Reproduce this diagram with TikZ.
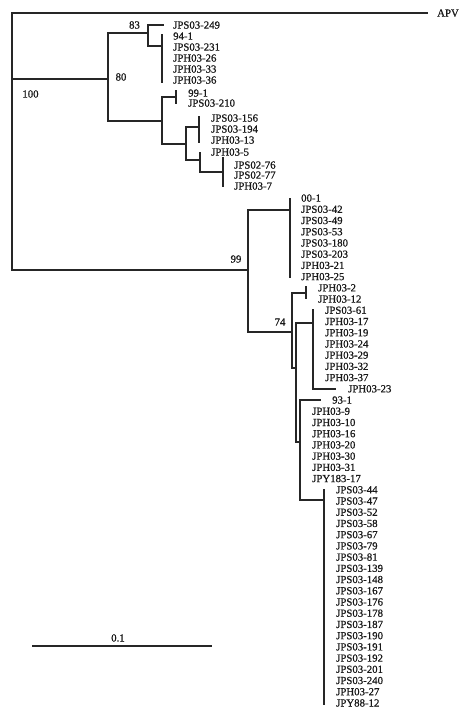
\documentclass[tikz,border=0pt]{standalone}
\usepackage{fontspec}
\setmainfont{Liberation Serif}
\newfontfamily\treefont[FakeBold=0.7]{Liberation Serif}
\begin{document}
\begin{tikzpicture}[x=1pt,y=-1pt,
  br/.style={draw=black!85, line width=1.1pt, line cap=rect},
  lab/.style={anchor=west, inner sep=0pt, font=\treefont\fontsize{10.8}{11}\selectfont, text height=7.2pt, text depth=0pt, text=black!90},
  bootlab/.style={inner sep=0pt, font=\treefont\fontsize{10.8}{11}\selectfont, text=black!90}]
\useasboundingbox (0,0) rectangle (474,717);
\fill[white] (0,0) rectangle (474,717);

% root
\coordinate (rootT) at (12,13);
\coordinate (rootB) at (12,270);
\draw[br] (rootT) -- (rootB);
\coordinate (apvE) at (427,13);
\draw[br] (rootT) -- (apvE);
\node[lab] (apv) at (437,13) {APV};

% clade 80
\coordinate (n80) at (108,79);
\coordinate (n80T) at (108,33);
\coordinate (n80B) at (108,121);
\draw[br] (rootT |- n80) -- (n80);
\draw[br] (n80T) -- (n80B);

\coordinate (n83) at (148,33);
\coordinate (n83T) at (148,25);
\coordinate (n83B) at (148,46);
\draw[br] (n80T) -- (n83);
\draw[br] (n83T) -- (n83B);
\coordinate (e249) at (163,25);
\draw[br] (n83T) -- (e249);
\node[lab] (l249) at (173,25) {JPS03-249};

\coordinate (p1) at (162,46);
\coordinate (p1T) at (162,35);
\coordinate (p1B) at (162,82);
\draw[br] (n83B) -- (p1);
\draw[br] (p1T) -- (p1B);
\foreach \t/\yy [count=\i] in {94-1/36,JPS03-231/47,JPH03-26/58,JPH03-33/69,JPH03-36/80}
  \node[lab] (a\i) at (173,\yy) {\t};

\coordinate (nA) at (162,121);
\coordinate (nAT) at (162,97);
\coordinate (nAB) at (162,144);
\draw[br] (n80B) -- (nA);
\draw[br] (nAT) -- (nAB);

\coordinate (p2) at (176,97);
\coordinate (p2T) at (176,91);
\coordinate (p2B) at (176,103);
\draw[br] (nAT) -- (p2);
\draw[br] (p2T) -- (p2B);
\node[lab] (b1) at (188,93) {99-1};
\node[lab] (b2) at (188,103) {JPS03-210};

\coordinate (nB) at (186,144);
\coordinate (nBT) at (186,127);
\coordinate (nBB) at (186,160);
\draw[br] (nAB) -- (nB);
\draw[br] (nBT) -- (nBB);

\coordinate (p3) at (199,127);
\coordinate (p3T) at (199,117);
\coordinate (p3B) at (199,142);
\draw[br] (nBT) -- (p3);
\draw[br] (p3T) -- (p3B);
\foreach \t/\yy [count=\i] in {JPS03-156/118,JPS03-194/129,JPH03-13/140}
  \node[lab] (c\i) at (211,\yy) {\t};

\coordinate (nC) at (200,160);
\coordinate (nCT) at (200,153);
\coordinate (nCB) at (200,172);
\draw[br] (nBB) -- (nC);
\draw[br] (nCT) -- (nCB);
\node[lab] (d0) at (211,152) {JPH03-5};

\coordinate (p4) at (223,172);
\coordinate (p4T) at (223,158);
\coordinate (p4B) at (223,186);
\draw[br] (nCB) -- (p4);
\draw[br] (p4T) -- (p4B);
\foreach \t/\yy [count=\i] in {JPS02-76/165,JPS02-77/175,JPH03-7/186}
  \node[lab] (d\i) at (234,\yy) {\t};

% clade 99
\coordinate (n99) at (248,270);
\coordinate (n99T) at (248,210);
\coordinate (n99B) at (248,332);
\draw[br] (rootB) -- (n99);
\draw[br] (n99T) -- (n99B);

\coordinate (p5) at (290,210);
\coordinate (p5T) at (290,199);
\coordinate (p5B) at (290,277);
\draw[br] (n99T) -- (p5);
\draw[br] (p5T) -- (p5B);
\foreach \t [count=\i from 0] in {00-1,JPS03-42,JPS03-49,JPS03-53,JPS03-180,JPS03-203,JPH03-21,JPH03-25}
  \node[lab] (e\i) at ({301},{198+11.22*\i}) {\t};

\coordinate (n74) at (292,332);
\coordinate (n74T) at (292,293);
\coordinate (n74B) at (292,368);
\draw[br] (n99B) -- (n74);
\draw[br] (n74T) -- (n74B);

\coordinate (p6) at (306,293);
\coordinate (p6T) at (306,287);
\coordinate (p6B) at (306,298);
\draw[br] (n74T) -- (p6);
\draw[br] (p6T) -- (p6B);
\node[lab] (f1) at ({318},{198+11.22*8}) {JPH03-2};
\node[lab] (f2) at ({318},{198+11.22*9}) {JPH03-12};

\coordinate (nX) at (296,368);
\coordinate (nXT) at (296,323);
\coordinate (nXB) at (296,442);
\draw[br] (n74B) -- (nX);
\draw[br] (nXT) -- (nXB);

\coordinate (p7) at (313,323);
\coordinate (p7T) at (313,310);
\coordinate (p7B) at (313,389);
\draw[br] (nXT) -- (p7);
\draw[br] (p7T) -- (p7B);
\foreach \t [count=\i from 10] in {JPS03-61,JPH03-17,JPH03-19,JPH03-24,JPH03-29,JPH03-32,JPH03-37}
  \node[lab] (g\i) at ({325},{198+11.22*\i}) {\t};
\coordinate (e23) at (335,389);
\draw[br] (p7B) -- (e23);
\node[lab] (g17) at ({348},{198+11.22*17}) {JPH03-23};

\coordinate (nY) at (300,442);
\coordinate (nYT) at (300,400);
\coordinate (nYB) at (300,500);
\draw[br] (nXB) -- (nY);
\draw[br] (nYT) -- (nYB);
\coordinate (e931) at (320,400);
\draw[br] (nYT) -- (e931);
\node[lab] (h18) at ({332},{198+11.22*18}) {93-1};
\foreach \t [count=\i from 19] in {JPH03-9,JPH03-10,JPH03-16,JPH03-20,JPH03-30,JPH03-31,JPY183-17}
  \node[lab] (h\i) at ({312},{198+11.22*\i}) {\t};

\coordinate (p8) at (324,500);
\coordinate (p8T) at (324,490);
\coordinate (p8B) at (324,704);
\draw[br] (nYB) -- (p8);
\draw[br] (p8T) -- (p8B);
\foreach \t [count=\i from 26] in {JPS03-44,JPS03-47,JPS03-52,JPS03-58,JPS03-67,JPS03-79,JPS03-81,JPS03-139,JPS03-148,JPS03-167,JPS03-176,JPS03-178,JPS03-187,JPS03-190,JPS03-191,JPS03-192,JPS03-201,JPS03-240,JPH03-27,JPY88-12}
  \node[lab] (k\i) at ({336},{198+11.22*\i}) {\t};

% bootstrap values
\node[bootlab] (bs83) at (134.5,25) {83};
\node[bootlab] (bs80) at (121,77) {80};
\node[bootlab] (bs100) at (30.5,94) {100};
\node[bootlab] (bs99) at (236,259) {99};
\node[bootlab] (bs74) at (280,322) {74};

% scale bar
\coordinate (sbL) at (33,646);
\coordinate (sbR) at (211,646);
\draw[br] (sbL) -- (sbR);
\node[bootlab] (sb) at (118,638) {0.1};
\end{tikzpicture}
\end{document}
